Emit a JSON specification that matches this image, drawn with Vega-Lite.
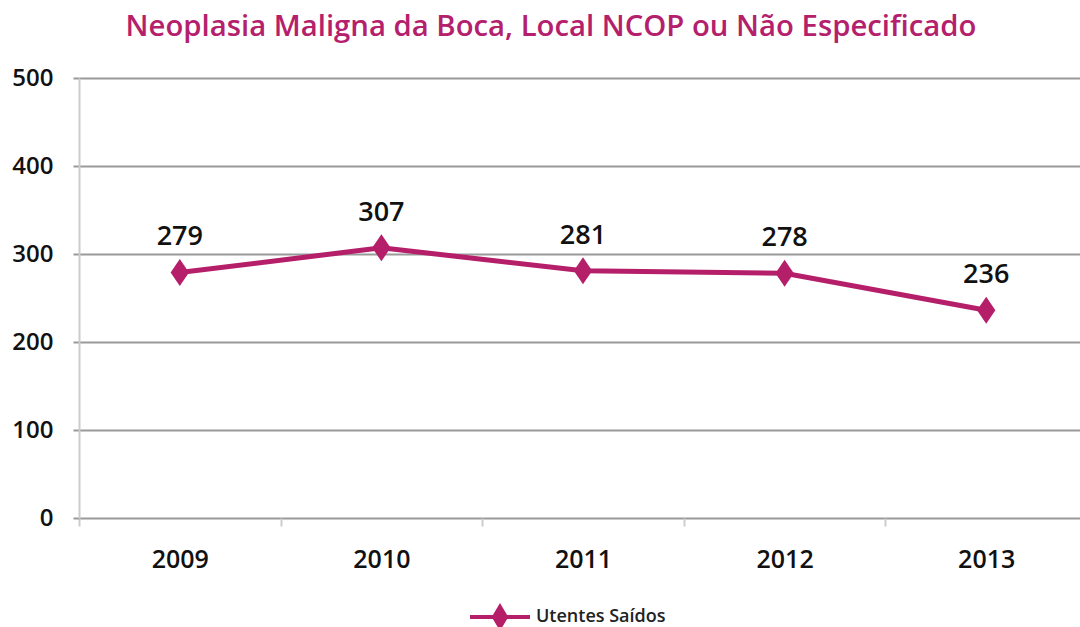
{
  "$schema": "https://vega.github.io/schema/vega-lite/v6.json",
  "width": 1008,
  "height": 440,
  "autosize": {"type": "none"},
  "padding": {"left": 79, "top": 78, "right": -7, "bottom": 109},
  "background": "white",
  "config": {
    "font": "Open Sans",
    "view": {"stroke": null}
  },
  "title": {
    "text": "Neoplasia Maligna da Boca, Local NCOP ou Não Especificado",
    "font": "Open Sans",
    "fontSize": 29.3,
    "fontWeight": 600,
    "color": "#B5206C",
    "anchor": "middle",
    "dx": -32,
    "offset": 24
  },
  "data": {
    "values": [
      {"year": "2009", "value": 279, "series": "Utentes Saídos"},
      {"year": "2010", "value": 307, "series": "Utentes Saídos"},
      {"year": "2011", "value": 281, "series": "Utentes Saídos"},
      {"year": "2012", "value": 278, "series": "Utentes Saídos"},
      {"year": "2013", "value": 236, "series": "Utentes Saídos"}
    ]
  },
  "encoding": {
    "x": {
      "field": "year",
      "type": "ordinal",
      "scale": {"paddingInner": 0, "paddingOuter": 0},
      "axis": {
        "title": null,
        "labelAngle": 0,
        "labelFont": "Open Sans",
        "labelFontSize": 25,
        "labelFontWeight": 600,
        "labelColor": "#111",
        "labelPadding": 21,
        "tickBand": "extent",
        "tickColor": "#cccccc",
        "tickWidth": 2,
        "tickSize": 8,
        "domain": false,
        "grid": false
      }
    },
    "y": {
      "field": "value",
      "type": "quantitative",
      "scale": {"domain": [0, 500], "nice": false},
      "axis": {
        "title": null,
        "values": [0, 100, 200, 300, 400, 500],
        "labelFont": "Open Sans",
        "labelFontSize": 24,
        "labelFontWeight": 600,
        "labelColor": "#111",
        "labelPadding": 20,
        "tickColor": "#999999",
        "tickWidth": 2,
        "tickSize": 6,
        "domainColor": "#cccccc",
        "domainWidth": 2,
        "grid": true,
        "gridColor": "#999999",
        "gridWidth": 2
      }
    }
  },
  "layer": [
    {
      "mark": {"type": "line", "color": "#B51F6A", "strokeWidth": 5}
    },
    {
      "mark": {
        "type": "point",
        "filled": true,
        "opacity": 1,
        "shape": "M-0.68,0L0,-1L0.68,0L0,1Z",
        "size": 729
      },
      "encoding": {
        "color": {
          "field": "series",
          "type": "nominal",
          "scale": {"range": ["#B51F6A"]},
          "legend": {
            "title": null,
            "orient": "none",
            "legendX": 409,
            "legendY": 527,
            "padding": 0,
            "symbolType": "M-3,0L3,0M0,-1L0.6,0L0,1L-0.6,0Z",
            "symbolSize": 400,
            "symbolStrokeWidth": 4,
            "symbolStrokeColor": "#B51F6A",
            "symbolFillColor": "#B51F6A",
            "labelOffset": 24,
            "labelFont": "Open Sans",
            "labelFontSize": 18,
            "labelFontWeight": 600,
            "labelColor": "#222"
          }
        }
      }
    },
    {
      "mark": {
        "type": "text",
        "dy": -35,
        "font": "Open Sans",
        "fontSize": 27,
        "fontWeight": 600,
        "color": "#111",
        "baseline": "middle"
      },
      "encoding": {
        "text": {"field": "value", "type": "quantitative"}
      }
    }
  ]
}
